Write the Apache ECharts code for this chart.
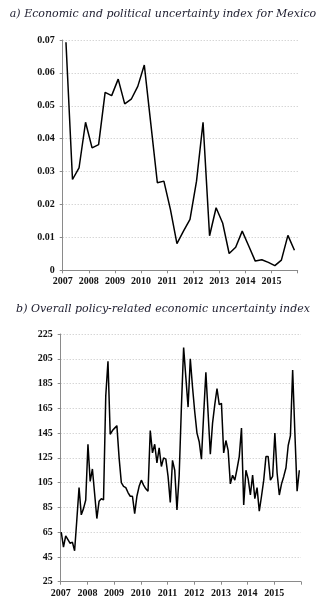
<!DOCTYPE html>
<html>
<head>
<meta charset="utf-8">
<script src="https://cdn.jsdelivr.net/npm/echarts@6/dist/echarts.min.js"></script>
<style>
    html, body { margin: 0; padding: 0; background: #fff; }
    #main { width: 322px; height: 607px; }
</style>
</head>
<body>
<div id="main"></div>
<script>
// year ticks shown on both x axes
var years = [2007, 2008, 2009, 2010, 2011, 2012, 2013, 2014, 2015];

// a) quarterly index for Mexico, 2007Q1 .. 2015Q4
var mexicoIndex = [
    0.0693, 0.0276, 0.0311, 0.0450, 0.0372, 0.0382, 0.0541, 0.0531, 0.0581,
    0.0506, 0.0520, 0.0559, 0.0624, 0.0445, 0.0266, 0.0271, 0.0185, 0.0081,
    0.0119, 0.0155, 0.0271, 0.0450, 0.0105, 0.0190, 0.0144, 0.0051, 0.0070,
    0.0119, 0.0074, 0.0028, 0.0032, 0.0024, 0.0014, 0.0031, 0.0106, 0.0061
];
var mexicoTicks = [0, 0.01, 0.02, 0.03, 0.04, 0.05, 0.06, 0.07];

// b) monthly overall policy-related index, Jan 2007 .. Dec 2015
var policy2007 = [65, 53, 62, 59, 56, 57, 50, 75, 101, 79, 84, 91];
var policy2008 = [136, 106, 116, 96, 76, 90, 92, 91, 175, 203, 144, 147];
var policy2009 = [149, 151, 125, 105, 102, 101, 97, 94, 94, 80, 94, 102];
var policy2010 = [107, 103, 100, 98, 147, 129, 136, 121, 133, 118, 125, 124];
var policy2011 = [110, 89, 123, 115, 83, 111, 166, 214, 190, 166, 205, 182];
var policy2012 = [162, 145, 138, 124, 160, 194, 161, 128, 153, 168, 181, 168];
var policy2013 = [169, 129, 139, 131, 104, 111, 107, 116, 126, 149, 87, 115];
var policy2014 = [108, 95, 111, 92, 101, 82, 94, 107, 126, 126, 107, 110];
var policy2015 = [145, 113, 95, 104, 110, 117, 135, 143, 196, 145, 98, 115];
var policyTicks = [25, 45, 65, 85, 105, 125, 145, 165, 185, 205, 225];

var chart = {
    labelFont: {
        color: '#111',
        fontFamily: 'Liberation Serif',
        fontWeight: 'bold',
        fontSize: 10
    },
    titleFont: {
        color: '#1c1c2e',
        fontFamily: 'DejaVu Serif',
        fontStyle: 'italic',
        fontWeight: 'normal',
        fontSize: 11
    },
    quarterly: function () {
        return mexicoIndex.map(function (v, i) {
            return [years[0] + (i + 0.5) / 4, v];
        });
    },
    monthly: function () {
        var all = [].concat(policy2007, policy2008, policy2009, policy2010, policy2011,
            policy2012, policy2013, policy2014, policy2015);
        return all.map(function (v, m) {
            return [years[0] + (m + 0.25) / 12, v];
        });
    },
    xAxis: function (gridIndex, margin) {
        var self = this;
        return {
            gridIndex: gridIndex,
            type: 'value',
            min: years[0],
            max: years[years.length - 1] + 1,
            interval: 1,
            splitLine: { show: false },
            axisLine: { lineStyle: { color: '#8a8a8a', width: 1 } },
            axisTick: { show: true, length: 3, lineStyle: { color: '#8a8a8a' } },
            axisLabel: Object.assign({
                margin: margin,
                showMaxLabel: true,
                formatter: function (v) {
                    return years.indexOf(Math.round(v)) >= 0 ? String(Math.round(v)) : '';
                }
            }, self.labelFont)
        };
    },
    yAxis: function (gridIndex, ticks, margin, fmt) {
        var self = this;
        return {
            gridIndex: gridIndex,
            type: 'value',
            min: ticks[0],
            max: ticks[ticks.length - 1],
            interval: ticks[1] - ticks[0],
            axisLine: { show: true, lineStyle: { color: '#8a8a8a', width: 1 } },
            axisTick: { show: true, length: 3, lineStyle: { color: '#8a8a8a' } },
            splitLine: { show: true, lineStyle: { color: '#c4c4c4', type: [1, 2], width: 1 } },
            axisLabel: Object.assign({ margin: margin, formatter: fmt }, self.labelFont)
        };
    },
    init: function () {
        var mychart = echarts.init(document.getElementById('main'), null, { renderer: 'canvas' });
        var option = {
            animation: false,
            backgroundColor: '#fff',
            title: [{
                text: 'a) Economic and political uncertainty index for Mexico',
                left: 158, top: 4, textAlign: 'center',
                textStyle: this.titleFont
            }, {
                text: 'b) Overall policy-related economic uncertainty index',
                left: 158, top: 299, textAlign: 'center',
                textStyle: this.titleFont
            }],
            grid: [
                { left: 62.7, right: 24.3, top: 40, height: 230.3 },
                { left: 60.7, right: 21, top: 334, height: 247.7 }
            ],
            xAxis: [this.xAxis(0, 6), this.xAxis(1, 7)],
            yAxis: [
                this.yAxis(0, mexicoTicks, 8, function (v) {
                    return v === 0 ? '0' : v.toFixed(2);
                }),
                this.yAxis(1, policyTicks, 8, function (v) {
                    return String(v);
                })
            ],
            series: [{
                type: 'line',
                xAxisIndex: 0,
                yAxisIndex: 0,
                data: this.quarterly(),
                symbol: 'none',
                lineStyle: { color: '#000', width: 1.5 }
            }, {
                type: 'line',
                xAxisIndex: 1,
                yAxisIndex: 1,
                data: this.monthly(),
                symbol: 'none',
                lineStyle: { color: '#000', width: 1.5 }
            }]
        };
        mychart.setOption(option);
    }
};

chart.init();
</script>
</body>
</html>
